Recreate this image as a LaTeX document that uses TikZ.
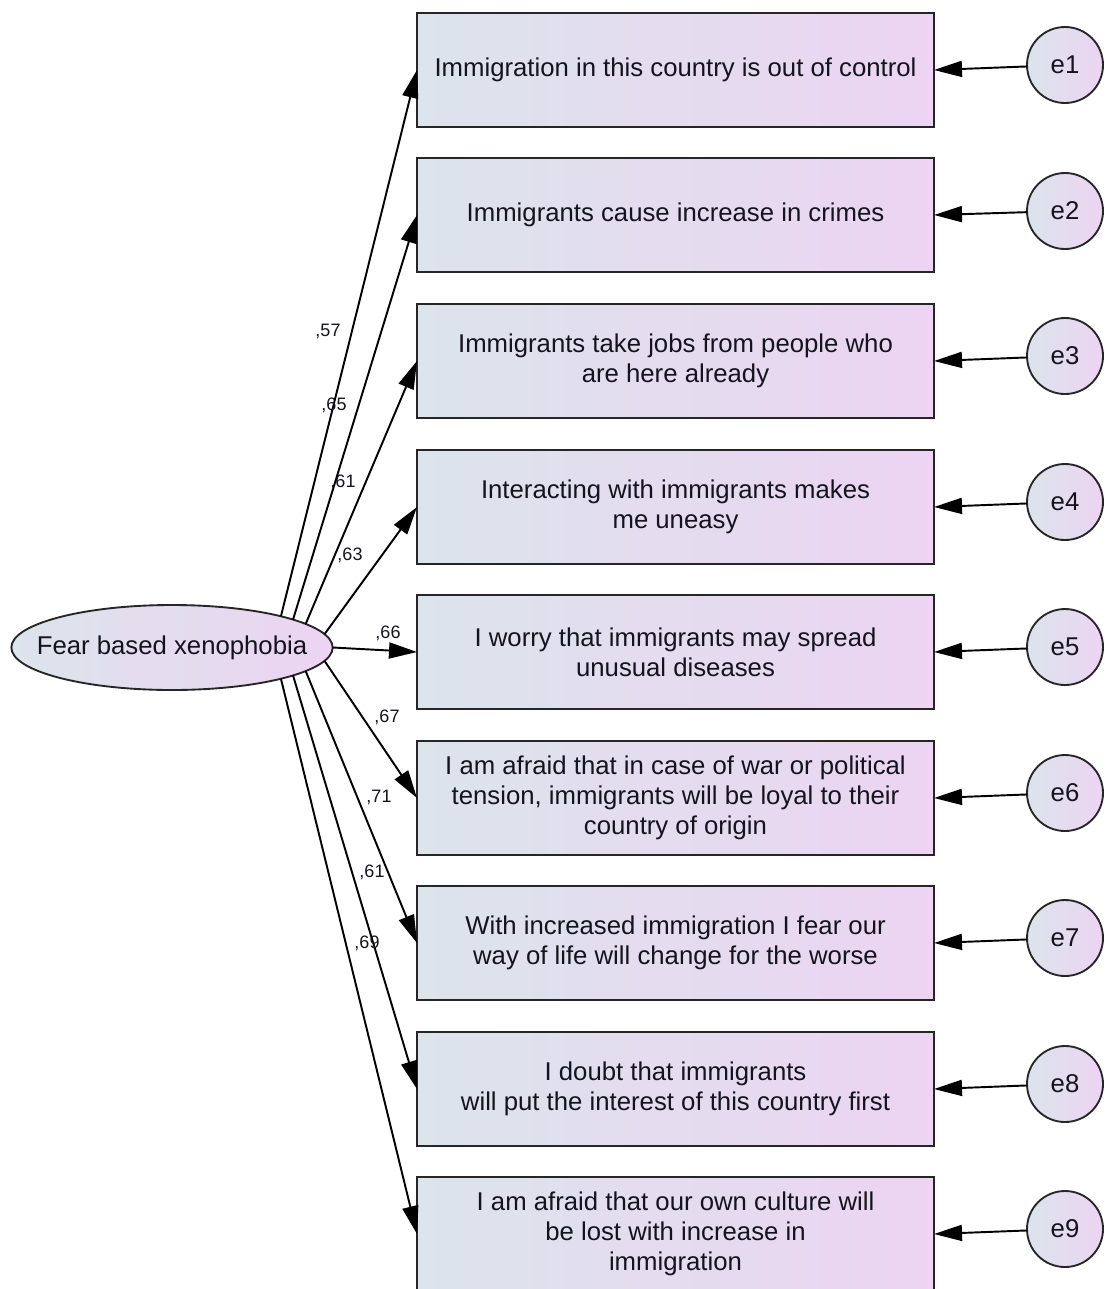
\documentclass[tikz,border=0pt]{standalone}
\usepackage{fontspec}
\setmainfont{Liberation Sans}
\usetikzlibrary{arrows.meta,shapes.geometric}
\definecolor{gl}{RGB}{220,228,236}
\definecolor{gr}{RGB}{236,212,242}
\definecolor{txt}{RGB}{20,20,30}
\begin{document}
\begin{tikzpicture}[x=0.75pt,y=-0.75pt,
 item/.style={draw=black!85, line width=1.6pt, left color=gl, right color=gr,
   minimum width=387.75pt, minimum height=85.5pt, inner sep=0pt, outer sep=0pt,
   align=center, font=\fontsize{19.3}{22.5}\selectfont, text=txt},
 err/.style={circle, draw=black!85, line width=1.4pt, left color=gl, right color=gr,
   minimum size=57pt, inner sep=0pt, outer sep=0pt,
   font=\fontsize{19.3}{22.5}\selectfont, text=txt},
 latent/.style={ellipse, draw=black!85, line width=1.4pt, left color=gl, right color=gr,
   minimum width=240pt, minimum height=63.75pt, inner xsep=-16.2pt, inner ysep=0pt, outer sep=0pt,
   font=\fontsize{19.3}{22.5}\selectfont, text=txt},
 link/.style={line width=1.45pt, -{Triangle[length=21pt,width=12pt]}},
 coef/.style={font=\fontsize{13.5}{15}\selectfont, text=txt, inner sep=0pt}
]
\useasboundingbox (0,0) rectangle (1105,1289);

\node[latent] (lv) at (172,647.5) {Fear based xenophobia};

\node[item] (b1) at (675.5,70) {Immigration in this country is out of control};
\node[item] (b2) at (675.5,215) {Immigrants cause increase in crimes};
\node[item] (b3) at (675.5,361) {Immigrants take jobs from people who\\are here already};
\node[item] (b4) at (675.5,507) {Interacting with immigrants makes\\me uneasy};
\node[item] (b5) at (675.5,652) {I worry that immigrants may spread\\unusual diseases};
\node[item] (b6) at (675.5,798) {I am afraid that in case of war or political\\tension, immigrants will be loyal to their\\country of origin};
\node[item] (b7) at (675.5,943) {With increased immigration I fear our\\way of life will change for the worse};
\node[item] (b8) at (675.5,1089) {I doubt that immigrants\\will put the interest of this country first};
\node[item] (b9) at (675.5,1234) {I am afraid that our own culture will\\be lost with increase in\\immigration};

\node[err] (e1) at (1065,65) {e1};
\node[err] (e2) at (1065,211) {e2};
\node[err] (e3) at (1065,356) {e3};
\node[err] (e4) at (1065,502) {e4};
\node[err] (e5) at (1065,647) {e5};
\node[err] (e6) at (1065,793) {e6};
\node[err] (e7) at (1065,938) {e7};
\node[err] (e8) at (1065,1084) {e8};
\node[err] (e9) at (1065,1229) {e9};

\draw[link] (lv.16.7) -- (b1.west);
\draw[link] (lv.13.8) -- (b2.west);
\draw[link] (lv.10.3) -- (b3.west);
\draw[link] (lv.5.9) -- (b4.west);
\draw[link] (lv.east) -- (b5.west);
\draw[link] (lv.-5.9) -- (b6.west);
\draw[link] (lv.-10.3) -- (b7.west);
\draw[link] (lv.-13.8) -- (b8.west);
\draw[link] (lv.-16.7) -- (b9.west);

\foreach \i in {1,...,9} {\draw[link] (e\i) -- (b\i.east);}

\node[coef] (c1) at (328,331) {,57};
\node[coef] (c2) at (334,405) {,65};
\node[coef] (c3) at (343,482) {,61};
\node[coef] (c4) at (350,555) {,63};
\node[coef] (c5) at (388,633) {,66};
\node[coef] (c6) at (387,717) {,67};
\node[coef] (c7) at (379,797) {,71};
\node[coef] (c8) at (372,872) {,61};
\node[coef] (c9) at (367,943) {,69};
\end{tikzpicture}
\end{document}
